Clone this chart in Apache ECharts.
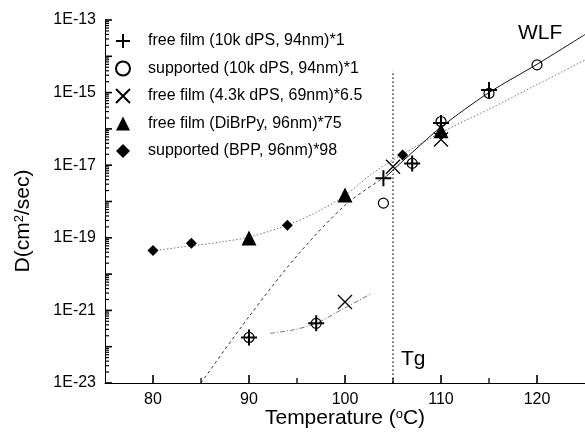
<!DOCTYPE html>
<html>
<head>
<meta charset="utf-8">
<script src="https://cdn.jsdelivr.net/npm/echarts@6/dist/echarts.min.js"></script>
<style>html,body{margin:0;padding:0;background:#fff;}#c{width:585px;height:435px;}</style>
</head>
<body>
<div id="c"></div>
<script>
// ---- data ----
const legendNames = [
  'free film (10k dPS, 94nm)*1',
  'supported (10k dPS, 94nm)*1',
  'free film (4.3k dPS, 69nm)*6.5',
  'free film (DiBrPy, 96nm)*75',
  'supported (BPP, 96nm)*98'
];
const freeFilm10k = [[90, 1.8e-22], [97, 4.4e-22], [104, 4.4e-18], [107, 1.12e-17], [110, 1.45e-16], [115, 1.17e-15]];
const supported10k = [[90, 1.8e-22], [97, 4.4e-22], [104, 9.0e-19], [107, 1.12e-17], [110, 1.6e-16], [115, 9.5e-16], [120, 5.8e-15]];
const freeFilm43k = [[100, 1.7e-21], [105, 9.1e-18], [110, 5.1e-17]];
const freeFilmDiBrPy = [[90, 9.8e-20], [100, 1.5e-18], [110, 8.9e-17]];
const supportedBPP = [[80, 4.5e-20], [84, 7.1e-20], [94, 2.2e-19], [106, 1.9e-17]];
const wlfCurve = [[104, 4.17e-18], [107, 2.24e-17], [110, 1.12e-16], [115, 1.0e-15], [120, 6.03e-15], [125, 3.98e-14]];
const wlfExtrap = [[85, 1e-23], [90, 6.76e-22], [95, 3.2e-20], [100, 7.9e-19], [104, 4.5e-18]];
const fitUpper = [[80, 4.4e-20], [84, 6.0e-20], [87, 7.6e-20], [90, 1.05e-19], [94, 2.24e-19], [97, 5.0e-19], [100, 1.48e-18], [103, 6.3e-18], [106, 2.0e-17], [110, 7.9e-17], [115, 3.5e-16], [120, 1.66e-15], [125, 7.9e-15]];
const fitLower = [[92.2, 2.34e-22], [94.6, 2.9e-22], [97, 4.4e-22], [99.5, 1.0e-21], [102.8, 2.95e-21]];
const tgLine = [[105, 1e-23], [105, 4e-15]];
const xRange = { min: 75, max: 125 };
const xMajorTicks = [80, 90, 100, 110, 120];
const xMinorTicks = [85, 95, 105, 115];
const yRange = { min: 1e-23, max: 1e-13 };
const yLabelTicks = [1e-23, 1e-21, 1e-19, 1e-17, 1e-15, 1e-13];
const yDecades = [-23, -22, -21, -20, -19, -18, -17, -16, -15, -14, -13];

// log-axis tick positions (axis furniture)
const yMajorTicks = yDecades.map(e => Math.pow(10, e));
const yMinorTicks = [];
yDecades.slice(0, -1).forEach(e => { for (let k = 2; k <= 9; k++) yMinorTicks.push(k * Math.pow(10, e)); });

// ---- chart ----
const chart = echarts.init(document.getElementById('c'), null, { renderer: 'canvas' });
const FONT = '"Liberation Sans", Arial, sans-serif';
const PLUS = 'path://M5,0L5,10M0,5L10,5';
const CROSS = 'path://M0,0L10,10M10,0L0,10';
const SUP = { fontSize: 13, verticalAlign: 'top', padding: [0, 0, 8, 0], fontFamily: FONT, color: '#000' };
const GRID = { left: 105, right: 0, top: 20, bottom: 52 };
const plotW = 585 - GRID.left - GRID.right;
const plotH = 435 - GRID.top - GRID.bottom;
const xPerPx = (xRange.max - xRange.min) / plotW;
const decPerPx = (Math.log10(yRange.max) - Math.log10(yRange.min)) / plotH;

function curve(data, color, width, dash) {
  return {
    type: 'line', data: data, smooth: 0.3, symbol: 'none', silent: true, z: 1,
    lineStyle: { color: color, width: width, type: dash }
  };
}
function tick(a, b, w) {
  return { type: 'line', data: [a, b], symbol: 'none', silent: true, z: 6, clip: false,
    lineStyle: { color: '#000', width: w, type: 'solid' } };
}
const tickSeries = [];
xMajorTicks.forEach(v => tickSeries.push(tick([v, yRange.min], [v, yRange.min * Math.pow(10, 8 * decPerPx)], 1.6)));
xMinorTicks.forEach(v => tickSeries.push(tick([v, yRange.min], [v, yRange.min * Math.pow(10, 5 * decPerPx)], 1.3)));
yMajorTicks.forEach(v => tickSeries.push(tick([xRange.min, v], [xRange.min + 7 * xPerPx, v], 1.6)));
yMinorTicks.forEach(v => tickSeries.push(tick([xRange.min, v], [xRange.min + 4 * xPerPx, v], 1.2)));

chart.setOption({
  animation: false,
  backgroundColor: '#fff',
  grid: { left: GRID.left, right: GRID.right, top: GRID.top, bottom: GRID.bottom, containLabel: false, outerBoundsMode: 'none' },
  xAxis: {
    type: 'value', min: xRange.min, max: xRange.max, interval: 5,
    axisLine: { show: true, onZero: false, lineStyle: { color: '#000', width: 1 } },
    axisTick: { show: false },
    splitLine: { show: false },
    axisLabel: { margin: 9, color: '#000', fontSize: 16, fontFamily: FONT, customValues: xMajorTicks },
    name: 'Temperature ({sup|o}C)', nameLocation: 'middle', nameGap: 25, nameMoveOverlap: false,
    nameTextStyle: { color: '#000', fontSize: 21, fontFamily: FONT, rich: { sup: SUP } }
  },
  yAxis: {
    type: 'log', logBase: 10, min: yRange.min, max: yRange.max,
    axisLine: { show: true, onZero: false, lineStyle: { color: '#000', width: 1 } },
    axisTick: { show: false },
    splitLine: { show: false },
    axisLabel: {
      margin: 9, color: '#000', fontSize: 16, fontFamily: FONT, customValues: yLabelTicks,
      formatter: v => '1E' + Math.round(Math.log10(v))
    }
  },
  legend: {
    orient: 'vertical', left: 110, top: 28, itemWidth: 14, itemHeight: 14, itemGap: 11.5,
    data: legendNames, selectedMode: false,
    textStyle: { color: '#000', fontSize: 16, fontFamily: FONT, padding: [0, 0, 0, 13] }
  },
  graphic: [
    { type: 'text', left: 518, top: 23, style: { text: 'WLF', fontSize: 21, fontFamily: FONT, fill: '#000' } },
    { type: 'text', left: 401, top: 349, style: { text: 'Tg', fontSize: 21, fontFamily: FONT, fill: '#000' } },
    { type: 'text', x: 23, y: 221, rotation: Math.PI / 2,
      style: { text: 'D(cm{sup|2}/sec)', fontSize: 21, fontFamily: FONT, fill: '#000',
        align: 'center', verticalAlign: 'middle', rich: { sup: { fontSize: 13, verticalAlign: 'top', padding: [0, 0, 8, 0], fontFamily: FONT, fill: '#000' } } } }
  ],
  series: tickSeries.concat([
    curve(fitUpper, '#777', 1, [1.5, 2]),
    curve(fitLower, '#777', 1, [5, 2, 1, 2]),
    curve(wlfExtrap, '#333', 1, [3, 3]),
    curve(wlfCurve, '#111', 1, 'solid'),
    { type: 'line', data: tgLine, symbol: 'none', silent: true, z: 1, lineStyle: { color: '#222', width: 1.3, type: [1.5, 2.5] } },
    { name: legendNames[1], type: 'scatter', data: supported10k, symbol: 'circle', symbolSize: 10, z: 3,
      itemStyle: { color: 'rgba(0,0,0,0)', borderColor: '#000', borderWidth: 1.2, opacity: 1 } },
    { name: legendNames[3], type: 'scatter', data: freeFilmDiBrPy, symbol: 'triangle', symbolSize: 15, z: 3,
      itemStyle: { color: '#000', opacity: 1 } },
    { name: legendNames[4], type: 'scatter', data: supportedBPP, symbol: 'diamond', symbolSize: 11, z: 3,
      itemStyle: { color: '#000', opacity: 1 } },
    { name: legendNames[2], type: 'scatter', data: freeFilm43k, symbol: CROSS, symbolSize: 14, z: 4,
      itemStyle: { color: 'rgba(0,0,0,0)', borderColor: '#000', borderWidth: 1.3, opacity: 1 } },
    { name: legendNames[0], type: 'scatter', data: freeFilm10k, symbol: PLUS, symbolSize: 16, z: 5,
      itemStyle: { color: 'rgba(0,0,0,0)', borderColor: '#000', borderWidth: 2, opacity: 1 } }
  ])
});
</script>
</body>
</html>
